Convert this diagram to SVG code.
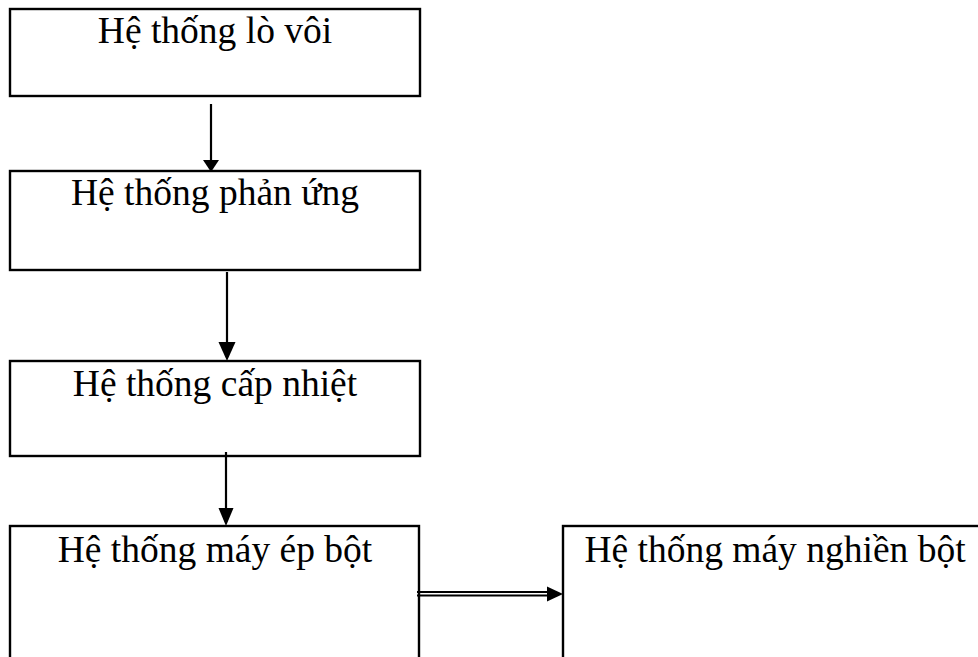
<svg xmlns="http://www.w3.org/2000/svg" width="978" height="657" viewBox="0 0 978 657">
<style>
.box{fill:#fff;stroke:#000;stroke-width:2.4}
.lbl{font-family:"Liberation Serif","Times New Roman",serif;font-size:37.5px;fill:#000;text-anchor:middle}
.conn{stroke:#000;stroke-width:2.2;fill:none}
.dbl{stroke:#000;stroke-width:2;fill:none}
.head{fill:#000}
</style>
<rect width="978" height="657" fill="#fff"/>
<g id="node-lo-voi">
<rect class="box" x="10" y="9" width="410" height="87"/>
<text class="lbl" x="215" y="43">Hệ thống lò vôi</text>
</g>
<g id="node-phan-ung">
<rect class="box" x="10" y="171" width="410" height="99"/>
<text class="lbl" x="215" y="205">Hệ thống phản ứng</text>
</g>
<g id="node-cap-nhiet">
<rect class="box" x="10" y="361" width="410" height="95"/>
<text class="lbl" x="215" y="396">Hệ thống cấp nhiệt</text>
</g>
<g id="node-may-ep-bot">
<rect class="box" x="10" y="526" width="409" height="150"/>
<text class="lbl" x="215" y="562">Hệ thống máy ép bột</text>
</g>
<g id="node-may-nghien-bot">
<rect class="box" x="563" y="526" width="426" height="150"/>
<text class="lbl" x="775" y="562">Hệ thống máy nghiền bột</text>
</g>
<g id="connectors">
<line class="conn" x1="211" y1="104" x2="211" y2="162"/>
<polygon class="head" points="203,160 219,160 211,172"/>
<line class="conn" x1="227" y1="272" x2="227" y2="345"/>
<polygon class="head" points="218.5,342 235.5,342 227,361"/>
<line class="conn" x1="226" y1="452" x2="226" y2="510"/>
<polygon class="head" points="218.5,508 233.5,508 226,526"/>
<line class="dbl" x1="417" y1="592" x2="550" y2="592"/>
<line class="dbl" x1="417" y1="595.6" x2="550" y2="595.6"/>
<polygon class="head" points="547,586.5 563,594 547,601.5"/>
</g>
</svg>
